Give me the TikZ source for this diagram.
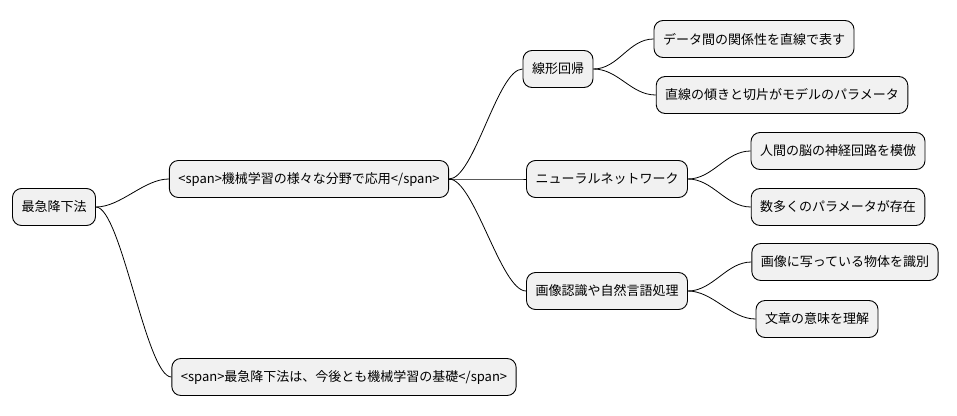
\documentclass[tikz,border=0pt]{standalone}
\usepackage{fontspec}
\setmainfont{Noto Sans CJK JP}
\usetikzlibrary{calc}
\begin{document}
\begin{tikzpicture}[x=1pt,y=-1pt,
  box/.style={draw=black,line width=0.9pt,fill={rgb,255:red,241;green,241;blue,241},rounded corners=9pt,minimum height=37pt,inner xsep=9pt,font=\fontsize{13}{15}\selectfont},
  con/.style={draw=black,line width=0.8pt}]
\useasboundingbox (0,0) rectangle (957,415);
\node[box] (r) at (54,207) {最急降下法};
\node[box] (a) at (309,179) {<span>機械学習の様々な分野で応用</span>};
\node[box] (b) at (344,377) {<span>最急降下法は、今後とも機械学習の基礎</span>};
\node[box] (a1) at (558,69) {線形回帰};
\node[box] (a2) at (607,179) {ニューラルネットワーク};
\node[box] (a3) at (607,291) {画像認識や自然言語処理};
\node[box] (a11) at (754,39) {データ間の関係性を直線で表す};
\node[box] (a12) at (782,95) {直線の傾きと切片がモデルのパラメータ};
\node[box] (a21) at (838,151) {人間の脳の神経回路を模倣};
\node[box] (a22) at (838,207) {数多くのパラメータが存在};
\node[box] (a31) at (845,262) {画像に写っている物体を識別};
\node[box] (a32) at (817,319) {文章の意味を理解};
\foreach \p/\c in {r/a,r/b,a/a1,a/a2,a/a3,a1/a11,a1/a12,a2/a21,a2/a22,a3/a31,a3/a32}{
  \draw[con] (\p.east) .. controls ($(\p.east)+(25,0)$) and ($(\c.west)+(-25,0)$) .. (\c.west);
}
\end{tikzpicture}
\end{document}
